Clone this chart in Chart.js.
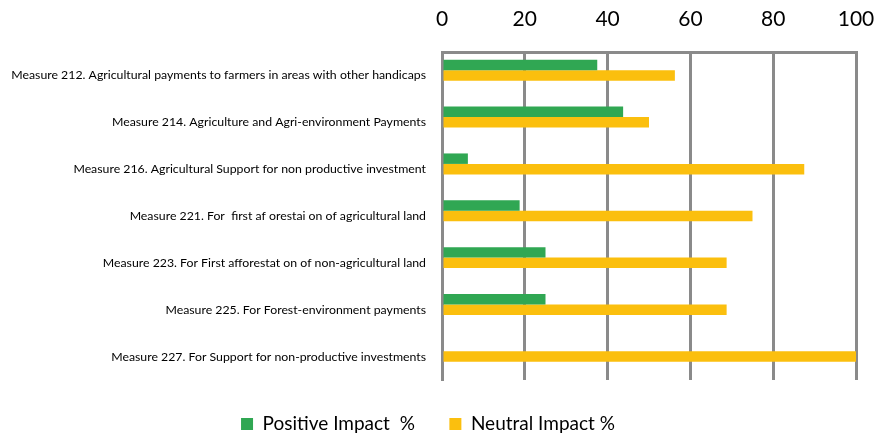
<!DOCTYPE html>
<html>
<head>
<meta charset="utf-8">
<script src="https://cdn.jsdelivr.net/npm/chart.js@4"></script>
<style>
  html, body { margin: 0; padding: 0; background: #fff; }
  #wrap { width: 874px; height: 439px; }
</style>
</head>
<body>
<div id="wrap"><canvas id="chart"></canvas></div>
<script>
const measures = [
  'Measure 212. Agricultural payments to farmers in areas with other handicaps',
  'Measure 214. Agriculture and Agri-environment Payments',
  'Measure 216. Agricultural Support for non productive investment',
  'Measure 221. For  first af orestai on of agricultural land',
  'Measure 223. For First afforestat on of non-agricultural land',
  'Measure 225. For Forest-environment payments',
  'Measure 227. For Support for non-productive investments'
];
const positiveImpact = [37.5, 43.75, 6.25, 18.75, 25, 25, 0];
const neutralImpact = [56.25, 50, 87.5, 75, 68.75, 68.75, 100];
// empty third slot in each group, the original chart leaves room for it
const emptySeries = [null, null, null, null, null, null, null];
const xTicks = [0, 20, 40, 60, 80, 100];

const gridGray = '#8a8a8a';

new Chart(document.getElementById('chart'), {
  type: 'bar',
  data: {
    labels: measures,
    datasets: [
      { label: 'Positive Impact  %', data: positiveImpact, backgroundColor: '#30a753' },
      { label: 'Neutral Impact %', data: neutralImpact, backgroundColor: '#fbbf0e' },
      { label: '', data: emptySeries, backgroundColor: 'rgba(0,0,0,0)' }
    ]
  },
  options: {
    indexAxis: 'y',
    responsive: true,
    maintainAspectRatio: false,
    animation: false,
    layout: { padding: { top: 0, right: 18, left: 0, bottom: -4.5 } },
    datasets: { bar: { barPercentage: 1, categoryPercentage: 0.67 } },
    scales: {
      x: {
        position: 'top',
        min: 0,
        max: 100,
        afterBuildTicks: (scale) => { scale.ticks = xTicks.map(v => ({ value: v })); },
        afterFit: (scale) => { scale.height = 52; scale.paddingRight = 0; scale.paddingLeft = 0; },
        grid: { color: gridGray, lineWidth: 3, drawTicks: false },
        border: { display: true, color: gridGray, width: 3 },
        ticks: { color: '#000', padding: 20, font: { family: 'Lato', size: 21 } }
      },
      y: {
        afterFit: (scale) => { scale.width = 442; },
        grid: { display: false, drawTicks: false },
        border: { display: true, color: gridGray, width: 3 },
        ticks: { color: '#000', padding: 16, font: { family: 'Lato', size: 12.3 } }
      }
    },
    plugins: {
      tooltip: { enabled: false },
      legend: {
        position: 'bottom',
        labels: {
          boxWidth: 12,
          boxHeight: 12,
          padding: 34.5,
          color: '#000',
          font: { family: 'Lato', size: 19 },
          filter: (item) => item.text !== ''
        }
      }
    }
  }
});
</script>
</body>
</html>
